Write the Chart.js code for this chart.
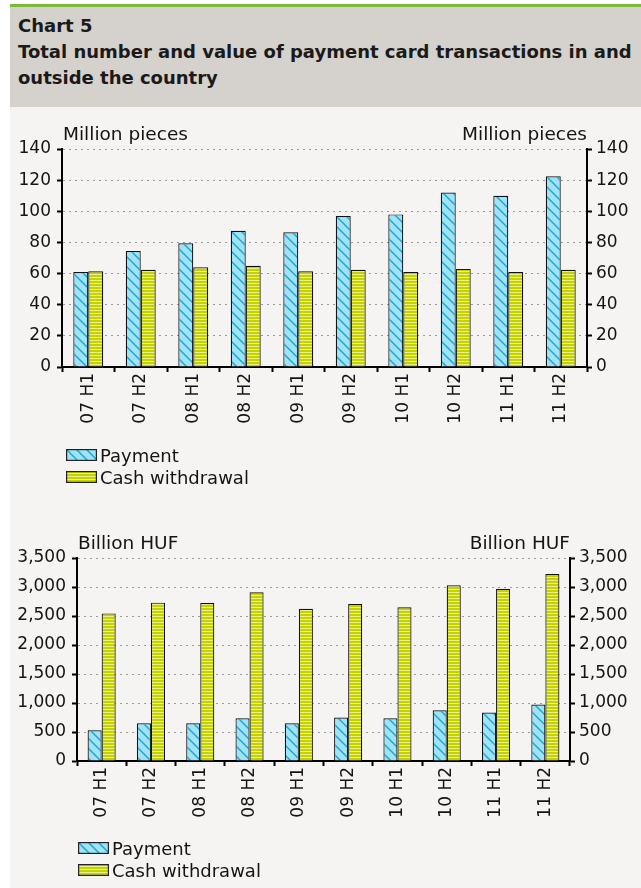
<!DOCTYPE html>
<html>
<head>
<meta charset="utf-8">
<script src="https://cdn.jsdelivr.net/npm/chart.js@4.4.0/dist/chart.umd.min.js"></script>
<style>
  body { margin: 0; width: 641px; height: 888px; background: #fff; position: relative; overflow: hidden; font-family: "DejaVu Sans", sans-serif; color: #141414; }
  #panel { position: absolute; left: 10px; top: 4px; right: 0; bottom: 0; background: #f5f4f2; }
  #green { position: absolute; left: 10px; top: 4px; right: 0; height: 3px; background: #7cbb3a; }
  #head { position: absolute; left: 10px; top: 7px; right: 0; height: 100px; background: #d5d1cc; }
  #head div { position: absolute; left: 8px; font-weight: bold; font-size: 18px; white-space: nowrap; color: #1a1a1a; }
  canvas.chart { position: absolute; left: 0; }
  .legend { position: absolute; font-size: 18px; }
  .legend .row { height: 22px; display: flex; align-items: center; }
  .legend canvas { margin-right: 3px; }
</style>
</head>
<body>
<div id="panel"></div>
<div id="green"></div>
<div id="head">
  <div style="top:8px">Chart 5</div>
  <div style="top:34px">Total number and value of payment card transactions in and</div>
  <div style="top:60px">outside the country</div>
</div>
<canvas id="piecesChart" class="chart" width="641" height="330" style="top:110px"></canvas>
<div id="legendTop" class="legend" style="left:66px; top:444px"></div>
<canvas id="valueChart" class="chart" width="641" height="340" style="top:500px"></canvas>
<div id="legendBottom" class="legend" style="left:78px; top:837px"></div>
<script>
// Data
const periods = ['07 H1', '07 H2', '08 H1', '08 H2', '09 H1', '09 H2', '10 H1', '10 H2', '11 H1', '11 H2'];
const paymentPieces = [61, 74.5, 79.5, 87.5, 86.5, 97, 98, 112, 110, 122.5];
const cashPieces = [61.5, 62.5, 64, 65, 61.5, 62.5, 61, 63, 61, 62.5];
const paymentValue = [530, 650, 650, 735, 650, 750, 735, 875, 835, 975];
const cashValue = [2545, 2730, 2725, 2910, 2625, 2705, 2650, 3030, 2970, 3225];
const seriesNames = ['Payment', 'Cash withdrawal'];

const FONT = '"DejaVu Sans", sans-serif';

// hatch patterns
function paymentPattern() {
  const c = document.createElement('canvas');
  c.width = 10; c.height = 10;
  const g = c.getContext('2d');
  g.fillStyle = '#a0e3f5';
  g.fillRect(0, 0, 10, 10);
  g.strokeStyle = '#1ba8d8';
  g.lineWidth = 1.5;
  g.beginPath();
  g.moveTo(-1, -1); g.lineTo(11, 11);
  g.moveTo(-1, 9); g.lineTo(1, 11);
  g.moveTo(9, -1); g.lineTo(11, 1);
  g.stroke();
  return g.createPattern(c, 'repeat');
}
function cashPattern() {
  const c = document.createElement('canvas');
  c.width = 4; c.height = 3;
  const g = c.getContext('2d');
  g.fillStyle = '#c6d200';
  g.fillRect(0, 0, 4, 3);
  g.fillStyle = '#e9f08e';
  g.fillRect(0, 2, 4, 1);
  return g.createPattern(c, 'repeat');
}
const fills = [paymentPattern(), cashPattern()];

// unit labels above both y axes
const unitLabels = {
  id: 'unitLabels',
  afterDraw(chart, args, opts) {
    const { ctx, chartArea } = chart;
    ctx.save();
    ctx.font = '18.5px ' + FONT;
    ctx.fillStyle = '#141414';
    ctx.textBaseline = 'alphabetic';
    ctx.textAlign = 'left';
    ctx.fillText(opts.text, chartArea.left + 1, chartArea.top - 9);
    ctx.textAlign = 'right';
    ctx.fillText(opts.text, chartArea.right, chartArea.top - 9);
    ctx.restore();
  }
};

function makeChart(id, payment, cash, unit, max, step, geom) {
  const tickFont = { family: FONT, size: 17 };
  const yCommon = {
    min: 0, max: max,
    ticks: {
      stepSize: step, color: '#141414', font: tickFont,
      callback: v => v.toLocaleString('en-US')
    },
    border: { color: '#000', width: 2 }
  };
  return new Chart(document.getElementById(id), {
    type: 'bar',
    data: {
      labels: periods,
      datasets: [
        { label: seriesNames[0], data: payment, backgroundColor: fills[0], borderColor: '#111', borderWidth: 1.2, yAxisID: 'y' },
        { label: seriesNames[1], data: cash, backgroundColor: fills[1], borderColor: '#111', borderWidth: 1.2, yAxisID: 'y' }
      ]
    },
    options: {
      responsive: false,
      devicePixelRatio: 1,
      animation: false,
      categoryPercentage: 0.57,
      barPercentage: 1,
      layout: { padding: { top: geom.top, left: 0, right: 0, bottom: 0 } },
      plugins: {
        legend: { display: false },
        tooltip: { enabled: false },
        unitLabels: { text: unit }
      },
      scales: {
        x: {
          grid: { offset: true, drawOnChartArea: false, tickLength: 5, tickColor: '#000', tickWidth: 2 },
          border: { color: '#000', width: 2 },
          ticks: { autoSkip: false, maxRotation: 90, minRotation: 90, padding: 1, color: '#141414', font: tickFont },
          afterFit: s => { s.height = geom.xHeight; }
        },
        y: Object.assign({}, yCommon, {
          position: 'left',
          grid: { color: '#9a9a9a', lineWidth: 1, tickLength: 5, tickColor: '#000', tickWidth: 2 },
          border: { color: '#000', width: 2, dash: [2, 4] },
          ticks: Object.assign({}, yCommon.ticks, { padding: 6 }),
          afterFit: s => { s.width = geom.left; }
        }),
        y2: Object.assign({}, yCommon, {
          position: 'right',
          grid: { drawOnChartArea: false, tickLength: 5, tickColor: '#000', tickWidth: 2 },
          ticks: Object.assign({}, yCommon.ticks, { padding: 4 }),
          afterFit: s => { s.width = geom.right; }
        })
      }
    },
    plugins: [unitLabels]
  });
}

makeChart('piecesChart', paymentPieces, cashPieces, 'Million pieces', 140, 20,
  { top: 39, left: 62, right: 54, xHeight: 73 });
makeChart('valueChart', paymentValue, cashValue, 'Billion HUF', 3500, 500,
  { top: 58, left: 77, right: 71, xHeight: 79 });

// HTML legends, one item per row
function buildLegend(el) {
  seriesNames.forEach((name, i) => {
    const row = document.createElement('div');
    row.className = 'row';
    const sw = document.createElement('canvas');
    sw.width = 31; sw.height = 12;
    const g = sw.getContext('2d');
    g.fillStyle = fills[i];
    g.fillRect(0, 0, 31, 12);
    g.strokeStyle = '#222';
    g.lineWidth = 1.2;
    g.strokeRect(0.6, 0.6, 29.8, 10.8);
    row.appendChild(sw);
    const t = document.createElement('span');
    t.textContent = name;
    row.appendChild(t);
    el.appendChild(row);
  });
}
buildLegend(document.getElementById('legendTop'));
buildLegend(document.getElementById('legendBottom'));
</script>
</body>
</html>
